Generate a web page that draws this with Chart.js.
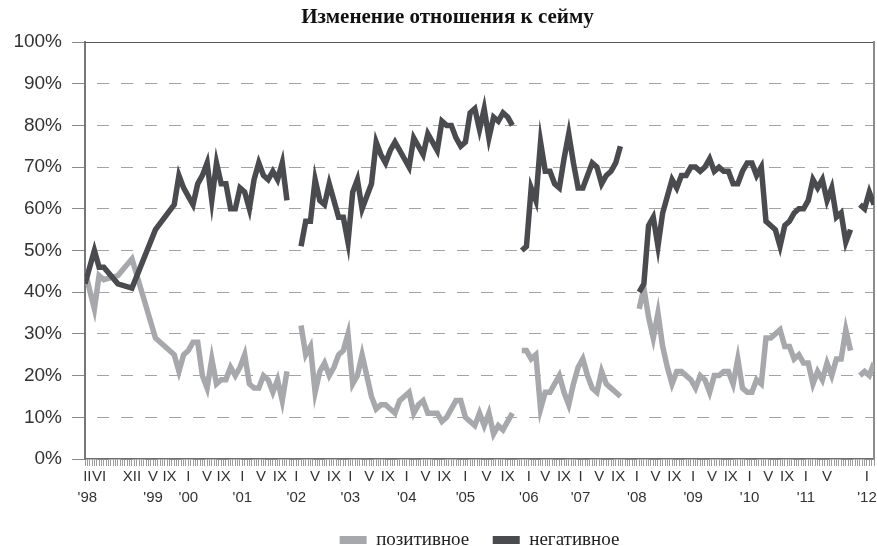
<!DOCTYPE html>
<html lang="ru">
<head>
<meta charset="utf-8">
<title>Изменение отношения к сейму</title>
<script src="https://cdn.jsdelivr.net/npm/chart.js@4.4.1/dist/chart.umd.min.js"></script>
<style>
  html, body { margin: 0; padding: 0; background: #fff; }
  #wrap { width: 877px; height: 546px; }
</style>
</head>
<body>
<div id="wrap"><canvas id="myChart"></canvas></div>
<script>
// month number counted from II 1998 (0 = luty 1998), null = break between Sejm terms
const months = [
  0, 2, 3, 4, 7, 10, 15, 19, 20, 21, 22, 23, 24, 25, 26, 27, 28, 29, 30, 31, 32, 33, 34, 35, 36, 37, 38, 39, 40, 41, 42, 43,
  44,
  46, 47, 48, 49, 50, 51, 52, 53, 54, 55, 56, 57, 58, 59, 60, 61, 62, 63, 64, 65, 66, 67, 68, 69,
  70, 71, 72, 73, 74, 75, 76, 77, 78, 79, 80, 81, 82, 83, 84, 85, 86, 87, 88, 89, 90, 91,
  92,
  93, 94, 95, 96, 97, 98, 99, 100, 101, 102, 103, 104, 105, 106, 107, 108, 109, 110, 111, 112, 113, 114,
  116,
  118, 119, 120, 121, 122, 123, 124, 125, 126, 127, 128, 129, 130, 131, 132, 133, 134, 135, 136, 137, 138, 139, 140,
  141, 142, 143, 144, 145, 146, 147, 148, 149, 150, 151, 152, 153, 154, 155, 156, 157, 158, 159, 160, 161, 162, 163,
  164,
  165, 166, 167, 168
]

const negatywne = [
  42, 50, 46, 46, 42, 41, 55, 61, 68, 65, 63, 61, 66, 68, 71, 62, 71, 66, 66, 60, 60, 65, 64, 60, 67, 71, 68, 67, 69, 67, 71, 62,
  null,
  51, 57, 57, 67, 62, 61, 66, 62, 58, 58, 52, 64, 67, 60, 63, 66, 76, 73, 71, 74, 76, 74, 72, 70,
  77, 75, 73, 78, 76, 74, 81, 80, 80, 77, 75, 76, 83, 84, 79, 84, 77, 82, 81, 83, 82, 80,
  null,
  50, 51, 65, 62, 76, 69, 69, 66, 65, 72, 78, 71, 65, 65, 68, 71, 70, 66, 68, 69, 71, 75,
  null,
  40, 42, 56, 58, 51, 59, 63, 67, 65, 68, 68, 70, 70, 69, 70, 72, 69, 70, 69, 69, 66, 66, 69,
  71, 71, 68, 70, 57, 56, 55, 51, 56, 57, 59, 60, 60, 62, 67, 65, 67, 62, 65, 58, 59, 52, 55,
  null,
  61, 60, 64, 61
]

const pozytywne = [
  45, 36, 44, 43, 44, 48, 29, 25, 21, 25, 26, 28, 28, 20, 17, 24, 18, 19, 19, 22, 20, 22, 25, 18, 17, 17, 20, 19, 16, 19, 14, 21,
  null,
  32, 25, 27, 16, 21, 23, 20, 22, 25, 26, 30, 18, 20, 25, 20, 15, 12, 13, 13, 12, 11, 14, 15, 16,
  11, 13, 14, 11, 11, 11, 9, 10, 12, 14, 14, 10, 9, 8, 11, 8, 11, 6, 8, 7, 9, 11,
  null,
  26, 26, 24, 25, 12, 16, 16, 18, 20, 16, 13, 18, 22, 24, 20, 17, 16, 21, 18, 17, 16, 15,
  null,
  36, 41, 34, 29, 35, 27, 22, 18, 21, 21, 20, 19, 17, 20, 19, 16, 20, 20, 21, 21, 18, 24, 17,
  16, 16, 19, 18, 29, 29, 30, 31, 27, 27, 24, 25, 23, 23, 18, 21, 19, 23, 20, 24, 24, 31, 26,
  null,
  20, 21, 20, 23
]

// podpisy osi X (pozycje, w miesiącach od II 1998)
const tickMonths = [
  0.5, 3, 10, 14.5, 18, 22, 26, 29.5, 33.5, 37.5, 41.5, 45, 49, 53, 56.5, 60.5, 64.5, 68.5, 72.5, 76.5, 81, 85.5, 90,
  94.5, 98, 102, 105.5, 109.5, 113.5, 117.5, 121.5, 125.5, 129.5, 133.5, 137.5, 141.5, 145.5, 149.5, 153.5, 158, 166.5
]
const tickRoman = [
  "II", "VI", "XII", "V", "IX", "I", "V", "IX", "I", "V", "IX", "I", "V", "IX", "I", "V", "IX", "I", "V", "IX", "I", "V", "IX",
  "I", "V", "IX", "I", "V", "IX", "I", "V", "IX", "I", "V", "IX", "I", "V", "IX", "I", "V", "I"
]
const tickYears = [
  "'98", "", "", "'99", "", "'00", "", "", "'01", "", "", "'02", "", "", "'03", "", "", "'04", "", "", "'05", "", "",
  "'06", "", "", "'07", "", "", "'08", "", "", "'09", "", "", "'10", "", "", "'11", "", "'12"
]

const yTicks = [0, 10, 20, 30, 40, 50, 60, 70, 80, 90, 100]


function toPoints(values) {
    return values.map((v, i) => ({x: months[i], y: v}))
}

function xLabel(value) {
    const idx = tickMonths.indexOf(value)
    if (idx < 0) return ""
    if (tickYears[idx]) return [tickRoman[idx], tickYears[idx]]
    return tickRoman[idx]
}

const config = {
    type: "line",
    data: {
        datasets: [
            {
                label: "позитивное",
                data: toPoints(pozytywne),
                borderColor: "#a7a8ac",
                backgroundColor: "#a7a8ac",
                borderWidth: 5.5,
                pointRadius: 0,
                spanGaps: false,
                order: 1
            },
            {
                label: "негативное",
                data: toPoints(negatywne),
                borderColor: "#4a4b4f",
                backgroundColor: "#4a4b4f",
                borderWidth: 5.5,
                pointRadius: 0,
                spanGaps: false,
                order: 0
            }
        ]
    },
    options: {
        responsive: true,
        maintainAspectRatio: false,
        animation: false,
        layout: {padding: {left: 10, right: -8, top: 0, bottom: -13.5}},
        plugins: {
            tooltip: {enabled: false},
            title: {
                display: true,
                text: "Изменение отношения к сейму",
                color: "#111",
                font: {family: "Liberation Serif", size: 21, weight: "bold"},
                padding: {top: 5, bottom: 11.8}
            },
            legend: {
                position: "bottom",
                fullSize: false,
                labels: {
                    boxWidth: 27,
                    boxHeight: 8,
                    padding: 23.5,
                    color: "#222",
                    font: {family: "Liberation Serif", size: 19},
                    sort: (a, b) => a.datasetIndex - b.datasetIndex,
                    generateLabels: (chart) => Chart.defaults.plugins.legend.labels.generateLabels(chart).map((item) => {
                        item.lineWidth = 0
                        return item
                    })
                }
            }
        },
        scales: {
            x: {
                type: "linear",
                min: 0,
                max: 168,
                afterFit: (scale) => { scale.height = 48 },
                grid: {drawOnChartArea: false, drawTicks: true, tickLength: 7, color: "#9c9c9c", lineWidth: 1},
                border: {color: "#6f6f6f", width: 1.5},
                ticks: {
                    stepSize: 0.5,
                    autoSkip: false,
                    maxRotation: 0,
                    minRotation: 0,
                    padding: 0,
                    color: "#333",
                    font: {family: "Liberation Sans", size: 15, lineHeight: 1.4},
                    callback: xLabel
                }
            },
            y: {
                min: 0,
                max: 100,
                afterFit: (scale) => { scale.width = 75 },
                afterBuildTicks: (scale) => { scale.ticks = yTicks.map((v) => ({value: v})) },
                grid: {color: "#a3a3a3", lineWidth: 1, tickLength: 13, tickColor: "#8a8a8a"},
                border: {color: "#777", width: 2, dash: [12, 12], dashOffset: 13},
                ticks: {
                    padding: 10,
                    color: "#333",
                    font: {family: "Liberation Sans", size: 19},
                    callback: (v) => v + "%"
                }
            },
            x2: {
                type: "linear",
                position: "top",
                min: 0,
                max: 1,
                afterFit: (scale) => { scale.height = 0 },
                grid: {display: false, drawTicks: false},
                ticks: {display: false},
                border: {color: "#555", width: 1}
            },
            y2: {
                type: "linear",
                position: "right",
                min: 0,
                max: 1,
                afterFit: (scale) => { scale.width = 11 },
                grid: {display: false, drawTicks: false},
                ticks: {display: false},
                border: {color: "#8c8c8c", width: 2}
            }
        }
    }
}

const myChart = document.getElementById("myChart")
new Chart(myChart, config)
</script>
</body>
</html>
